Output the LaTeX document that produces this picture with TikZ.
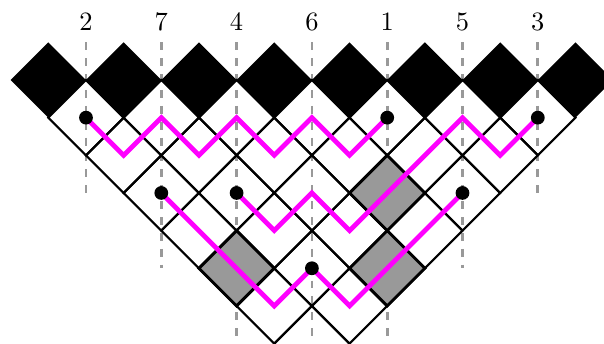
\documentclass[tikz,border=0pt]{standalone}
\definecolor{pipecolor}{RGB}{255,0,255}
\begin{document}
\begin{tikzpicture}[x=0.5cm,y=0.5cm]
\tikzstyle{cell}=[draw, line width=0.8pt]
\tikzstyle{block}=[fill=black]
\tikzstyle{shaded}=[draw, fill=black!40, line width=1.1pt]
\tikzstyle{guide}=[draw, dashed, black!40, line width=1pt]
\tikzstyle{pipe}=[draw, pipecolor, line width=1.8pt]
\tikzstyle{dot}=[circle, fill=black, inner sep=0pt, minimum size=5.2pt]

% Frame
\useasboundingbox (-0.284,-7.01) rectangle (15.758,2.125);
\clip (-0.284,-7.01) rectangle (15.758,2.125);

% Column labels and guides
\foreach \x/\v/\e in {2/2/-3, 4/7/-5, 6/4/-7.2, 8/6/-7.2, 10/1/-7.2, 12/5/-5, 14/3/-3} {
  \node (lab\x) at (\x,1.54) {$\v$};
  \draw[guide] (\x,1) -- (\x,\e);
}

% Top row of black blocks
\foreach \k in {0,...,7}
  \path[block] (2*\k,0) -- ++(1,1) -- ++(1,-1) -- ++(-1,-1) -- cycle;

% Staircase of cells
\foreach \r in {1,...,7} {
  \pgfmathtruncatemacro\n{8-\r}
  \foreach \c in {1,...,\n}
    \draw[cell] ({\r+2*\c-2},-\r) -- ++(1,1) -- ++(1,-1) -- ++(-1,-1) -- cycle;
}

% Shaded cells
\foreach \x/\y in {10/-3, 6/-5, 10/-5}
  \draw[shaded] (\x-1,\y) -- ++(1,1) -- ++(1,-1) -- ++(-1,-1) -- cycle;

% Dot positions
\coordinate (d1) at (2,-1);
\coordinate (d2) at (10,-1);
\coordinate (d3) at (14,-1);
\coordinate (d4) at (4,-3);
\coordinate (d5) at (6,-3);
\coordinate (d6) at (12,-3);
\coordinate (d7) at (8,-5);

% Pipes
\draw[pipe] (d1) -- (3,-2) -- (4,-1) -- (5,-2) -- (6,-1) -- (7,-2) -- (8,-1) -- (9,-2) -- (d2);
\draw[pipe] (d5) -- (7,-4) -- (8,-3) -- (9,-4) -- (10,-3) -- (12,-1) -- (13,-2) -- (d3);
\draw[pipe] (d4) -- (7,-6) -- (d7) -- (9,-6) -- (10,-5) -- (d6);

% Dots
\foreach \d in {d1,d2,d3,d4,d5,d6,d7}
  \node[dot] at (\d) {};
\end{tikzpicture}
\end{document}
